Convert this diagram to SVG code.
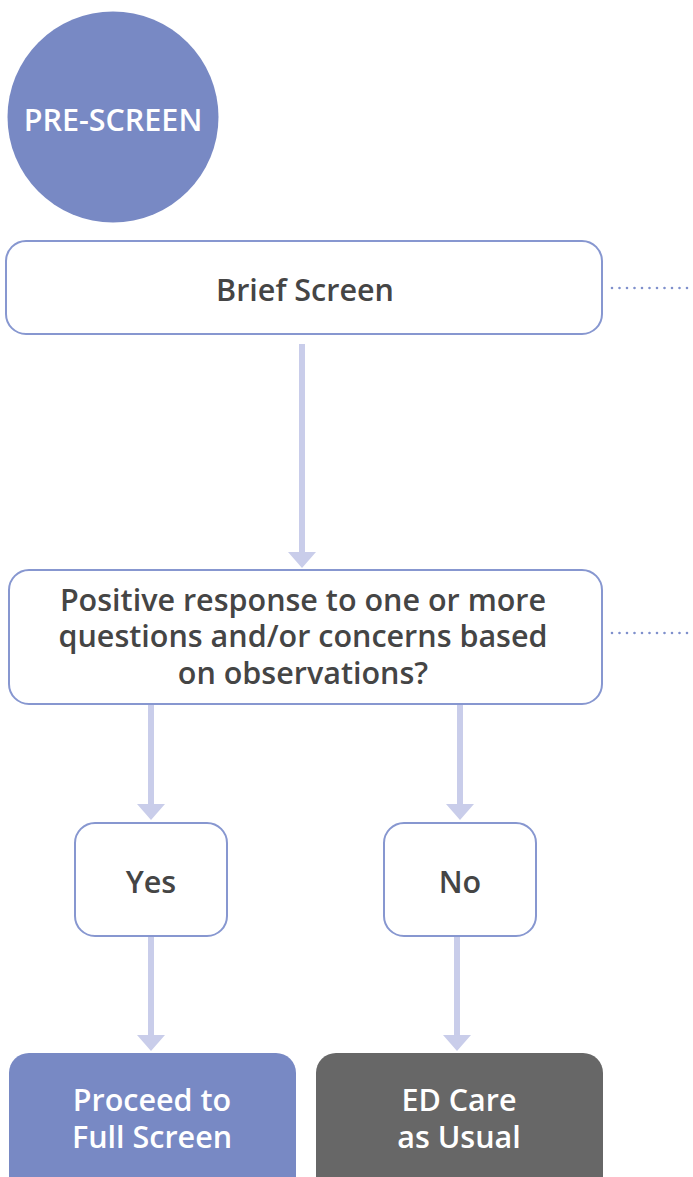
<svg xmlns="http://www.w3.org/2000/svg" width="693" height="1177" viewBox="0 0 693 1177">
  <style>
    .box { fill: #ffffff; stroke: #8797d0; stroke-width: 2; }
    .lbl { font-family: "Open Sans", "Liberation Sans", sans-serif; font-weight: 600; font-size: 30.5px; fill: #454545; text-anchor: middle; }
    .wlbl { font-family: "Open Sans", "Liberation Sans", sans-serif; font-weight: 600; font-size: 30.5px; fill: #ffffff; text-anchor: middle; }
    .flow { stroke: #c9cdea; stroke-width: 6; fill: none; }
    .head { fill: #c9cdea; }
    .dots { stroke: #7f90cc; stroke-width: 2.6; stroke-linecap: round; stroke-dasharray: 0 7.5; fill: none; }
  </style>

  <g id="pre-screen">
    <circle cx="113" cy="117" r="105.5" fill="#7889c4"/>
    <text class="wlbl" x="113" y="131" font-size="25">PRE-SCREEN</text>
  </g>

  <g id="brief-screen">
    <rect class="box" x="6" y="241" width="596" height="93" rx="20"/>
    <text class="lbl" x="305" y="301">Brief Screen</text>
  </g>

  <g id="decision">
    <rect class="box" x="9" y="570" width="593" height="134" rx="20"/>
    <text class="lbl" x="303" y="611">Positive response to one or more</text>
    <text class="lbl" x="303" y="647">questions and/or concerns based</text>
    <text class="lbl" x="303" y="684">on observations?</text>
  </g>

  <g id="yes">
    <rect class="box" x="75" y="823" width="152" height="113" rx="20"/>
    <text class="lbl" x="151" y="893">Yes</text>
  </g>

  <g id="no">
    <rect class="box" x="384" y="823" width="152" height="113" rx="20"/>
    <text class="lbl" x="460" y="893">No</text>
  </g>

  <g id="full-screen">
    <rect x="9" y="1053" width="287" height="150" rx="20" fill="#7889c4"/>
    <text class="wlbl" x="152" y="1111">Proceed to</text>
    <text class="wlbl" x="152" y="1148">Full Screen</text>
  </g>

  <g id="care-as-usual">
    <rect x="316" y="1053" width="287" height="150" rx="20" fill="#676767"/>
    <text class="wlbl" x="459" y="1111">ED Care</text>
    <text class="wlbl" x="459" y="1148">as Usual</text>
  </g>

  <g id="connectors">
    <line class="flow" x1="302" y1="344" x2="302" y2="554"/>
    <polygon class="head" points="288,552 316,552 302,568"/>

    <line class="flow" x1="151" y1="705" x2="151" y2="806"/>
    <polygon class="head" points="137,804 165,804 151,820"/>

    <line class="flow" x1="460" y1="705" x2="460" y2="806"/>
    <polygon class="head" points="446,804 474,804 460,820"/>

    <line class="flow" x1="151" y1="937" x2="151" y2="1036"/>
    <polygon class="head" points="137,1035 165,1035 151,1051"/>

    <line class="flow" x1="457" y1="937" x2="457" y2="1036"/>
    <polygon class="head" points="443,1035 471,1035 457,1051"/>

    <line class="dots" x1="612" y1="288" x2="693" y2="288"/>
    <line class="dots" x1="612" y1="633" x2="693" y2="633"/>
  </g>
</svg>
